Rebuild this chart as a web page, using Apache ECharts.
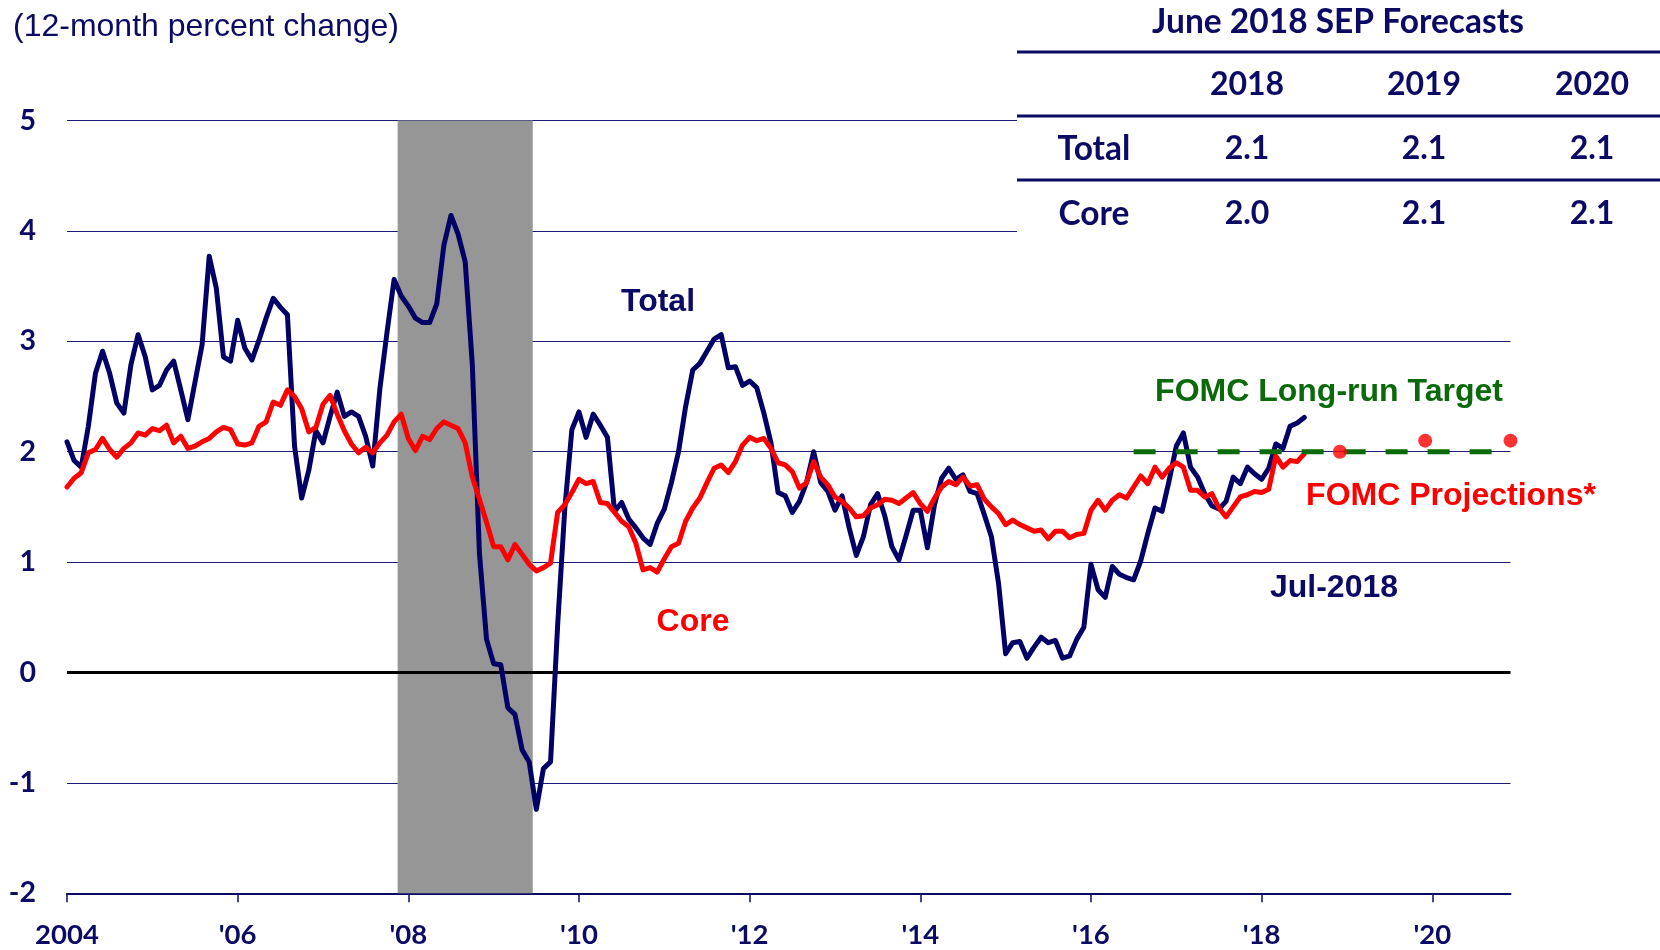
<!DOCTYPE html>
<html>
<head>
<meta charset="utf-8">
<title>PCE Inflation</title>
<script src="https://cdn.jsdelivr.net/npm/echarts@6/dist/echarts.min.js"></script>
<style>
  html, body { margin: 0; padding: 0; background: #fff; }
  #chart { width: 1660px; height: 950px; }
</style>
</head>
<body>
<div id="chart"></div>
<script>
// monthly categories, Jan 2004 .. Dec 2020
var months = [];
for (var y = 2004; y <= 2020; y++) {
  for (var m = 1; m <= 12; m++) months.push(y + '-' + (m < 10 ? '0' + m : m));
}
var yearLabels = ['2004', "'06", "'08", "'10", "'12", "'14", "'16", "'18", "'20"];

// 12-month percent change, Jan 2004 .. Jul 2018
var total = [
  2.09, 1.92, 1.86, 2.23, 2.71, 2.91, 2.71, 2.44, 2.35, 2.79, 3.06, 2.86,
  2.56, 2.60, 2.74, 2.82, 2.56, 2.29, 2.63, 2.97, 3.77, 3.48, 2.86, 2.82,
  3.19, 2.94, 2.83, 3.01, 3.21, 3.39, 3.31, 3.24, 2.05, 1.58, 1.83, 2.19,
  2.08, 2.32, 2.54, 2.32, 2.36, 2.32, 2.14, 1.87, 2.57, 3.08, 3.56, 3.41,
  3.32, 3.21, 3.17, 3.17, 3.34, 3.87, 4.14, 3.97, 3.72, 2.79, 1.08, 0.30,
  0.08, 0.07, -0.32, -0.38, -0.70, -0.81, -1.24, -0.87, -0.81, 0.43, 1.48, 2.20,
  2.36, 2.13, 2.34, 2.24, 2.13, 1.46, 1.54, 1.39, 1.31, 1.22, 1.16, 1.35,
  1.48, 1.72, 2.00, 2.41, 2.74, 2.80, 2.91, 3.02, 3.06, 2.76, 2.77, 2.60,
  2.64, 2.58, 2.35, 2.08, 1.63, 1.60, 1.45, 1.55, 1.72, 2.00, 1.72, 1.64,
  1.47, 1.60, 1.31, 1.06, 1.23, 1.52, 1.62, 1.42, 1.14, 1.02, 1.24, 1.47,
  1.47, 1.13, 1.52, 1.76, 1.85, 1.75, 1.79, 1.64, 1.62, 1.43, 1.23, 0.81,
  0.17, 0.27, 0.28, 0.13, 0.23, 0.32, 0.27, 0.29, 0.13, 0.15, 0.30, 0.41,
  0.98, 0.75, 0.68, 0.96, 0.89, 0.86, 0.84, 1.01, 1.26, 1.49, 1.46, 1.74,
  2.05, 2.17, 1.86, 1.77, 1.62, 1.51, 1.48, 1.55, 1.77, 1.71, 1.86, 1.80,
  1.75, 1.85, 2.07, 2.03, 2.23, 2.26, 2.31
];
var core = [
  1.68, 1.76, 1.81, 1.99, 2.02, 2.12, 2.02, 1.95, 2.03, 2.08, 2.17, 2.15,
  2.21, 2.19, 2.24, 2.08, 2.14, 2.03, 2.05, 2.09, 2.12, 2.18, 2.22, 2.20,
  2.07, 2.06, 2.08, 2.23, 2.27, 2.45, 2.42, 2.56, 2.50, 2.39, 2.18, 2.22,
  2.43, 2.51, 2.34, 2.19, 2.07, 1.99, 2.04, 1.99, 2.08, 2.15, 2.27, 2.34,
  2.12, 2.01, 2.14, 2.11, 2.21, 2.27, 2.24, 2.21, 2.08, 1.77, 1.57, 1.36,
  1.14, 1.14, 1.02, 1.16, 1.07, 0.98, 0.92, 0.95, 0.99, 1.45, 1.52, 1.63,
  1.75, 1.71, 1.73, 1.54, 1.53, 1.45, 1.37, 1.32, 1.17, 0.93, 0.95, 0.91,
  1.03, 1.14, 1.17, 1.37, 1.49, 1.58, 1.72, 1.85, 1.88, 1.81, 1.91, 2.06,
  2.13, 2.10, 2.12, 2.03, 1.90, 1.88, 1.82, 1.67, 1.72, 1.91, 1.77, 1.70,
  1.59, 1.55, 1.49, 1.41, 1.42, 1.49, 1.52, 1.57, 1.56, 1.53, 1.58, 1.63,
  1.53, 1.46, 1.58, 1.68, 1.73, 1.70, 1.77, 1.69, 1.70, 1.57, 1.50, 1.44,
  1.34, 1.38, 1.34, 1.31, 1.28, 1.29, 1.21, 1.28, 1.28, 1.22, 1.25, 1.26,
  1.47, 1.56, 1.47, 1.56, 1.61, 1.58, 1.68, 1.78, 1.71, 1.86, 1.77, 1.85,
  1.90, 1.86, 1.65, 1.65, 1.59, 1.62, 1.49, 1.41, 1.50, 1.59, 1.61, 1.64,
  1.63, 1.66, 1.96, 1.86, 1.92, 1.91, 1.98
];

var recession = ['2007-12', '2009-06'];
var targetValue = 2;
var targetSpan = ['2016-07', '2020-12'];

// June 2018 SEP
var sepYears = ['2018', '2019', '2020'];
var sepTotal = [2.1, 2.1, 2.1];
var sepCore = [2.0, 2.1, 2.1];
var sepMonths = ['2018-12', '2019-12', '2020-12'];

var gridFull = [-1, 1, 2, 3];
var gridShort = [4, 5];
var shortGridEnd = 133.6; // month index where the table starts

var navy = '#0b0b66';
var red = '#ff0000';
var green = '#0a6a0a';
var lato = 'Lato';
var arial = '"Liberation Sans", Arial, sans-serif';

var chart = echarts.init(document.getElementById('chart'));

function text(str, x, y, size, color, family, weight, align) {
  return {
    type: 'text', x: x, y: y, silent: true,
    style: {
      text: str, fill: color, fontSize: size, fontFamily: family,
      fontWeight: weight || 'bold', align: align || 'center', verticalAlign: 'middle'
    }
  };
}
function hline(y, x1, x2) {
  return {
    type: 'line', silent: true,
    shape: { x1: x1, y1: y, x2: x2, y2: y },
    style: { stroke: navy, lineWidth: 3 }
  };
}

var tableCols = [1094, 1247, 1424, 1592];
var graphics = [
  text('(12-month percent change)', 13, 27, 32, navy, arial, 'normal', 'left'),
  text('Total', 658, 302, 32, navy, arial),
  text('Core', 693, 622, 32, red, arial),
  text('FOMC Long-run Target', 1329, 392, 32, green, arial),
  text('FOMC Projections*', 1451, 496, 32, red, arial),
  text('Jul-2018', 1334, 588, 32, navy, arial),
  text('June 2018 SEP Forecasts', 1338, 22, 33.5, navy, lato),
  hline(52, 1017, 1660),
  hline(116, 1017, 1660),
  hline(180, 1017, 1660),
  text('Total', tableCols[0], 149, 33.5, navy, lato),
  text('Core', tableCols[0], 214, 33.5, navy, lato)
];
sepYears.forEach(function (yr, i) {
  graphics.push(text(yr, tableCols[i + 1], 85, 32, navy, lato));
  graphics.push(text(sepTotal[i].toFixed(1), tableCols[i + 1], 149, 32, navy, lato));
  graphics.push(text(sepCore[i].toFixed(1), tableCols[i + 1], 214, 32, navy, lato));
});

var option = {
  animation: false,
  backgroundColor: '#fff',
  grid: { left: 67, right: 149.5, top: 120.5, bottom: 56.7, outerBoundsMode: 'none' },
  xAxis: [
    {
      type: 'category',
      data: months,
      boundaryGap: false,
      axisLine: { onZero: false, lineStyle: { color: navy, width: 2 } },
      axisTick: {
        interval: function (i) { return i % 24 === 0; },
        length: 9,
        lineStyle: { color: navy, width: 1.5 }
      },
      axisLabel: {
        interval: function (i) { return i % 24 === 0; },
        formatter: function (v, i) { return yearLabels[i / 24]; },
        color: navy, fontFamily: lato, fontWeight: 'bold', fontSize: 27.5, margin: 28
      },
      splitLine: { show: false }
    },
    { type: 'value', min: 0, max: months.length - 1, show: false }
  ],
  yAxis: {
    type: 'value', min: -2, max: 5, interval: 1,
    axisLine: { show: false },
    axisTick: { show: false },
    splitLine: { show: false },
    axisLabel: { color: navy, fontFamily: lato, fontWeight: 'bold', fontSize: 28.5, margin: 31 }
  },
  graphic: graphics,
  series: [
    {
      name: 'gridlines', type: 'line', xAxisIndex: 1, data: [], silent: true,
      markLine: {
        z: 0.5, silent: true, symbol: 'none', label: { show: false },
        lineStyle: { color: '#1c1c78', width: 1.2, type: 'solid' },
        data: gridFull.map(function (v) { return { yAxis: v }; }).concat(
          gridShort.map(function (v) { return [{ coord: [0, v] }, { coord: [shortGridEnd, v] }]; }))
      }
    },
    {
      name: 'recession', type: 'line', xAxisIndex: 1, data: [], silent: true,
      markArea: {
        z: 1, silent: true, itemStyle: { color: '#969696' },
        data: [[
          { xAxis: months.indexOf(recession[0]) - 0.5 },
          { xAxis: months.indexOf(recession[1]) + 0.5 }
        ]]
      }
    },
    {
      name: 'zero', type: 'line', xAxisIndex: 1, data: [], silent: true,
      markLine: {
        z: 1.5, silent: true, symbol: 'none', label: { show: false },
        lineStyle: { color: '#000', width: 3, type: 'solid' },
        data: [{ yAxis: 0 }]
      }
    },
    {
      name: 'Total', type: 'line', data: total, showSymbol: false, z: 2,
      lineStyle: { color: '#000066', width: 5, join: 'round', cap: 'round' }
    },
    {
      name: 'Core', type: 'line', data: core, showSymbol: false, z: 3,
      lineStyle: { color: red, width: 5, join: 'round', cap: 'round' }
    },
    {
      name: 'Target', type: 'line', showSymbol: false, z: 4,
      data: [[targetSpan[0], targetValue], [targetSpan[1], targetValue]],
      lineStyle: { color: green, width: 5, type: [22, 20] }
    },
    {
      name: 'Projections', type: 'scatter', z: 5, symbolSize: 14,
      itemStyle: { color: red },
      data: sepMonths.map(function (mo, i) { return [mo, sepCore[i]]; })
    }
  ]
};
chart.setOption(option);
</script>
</body>
</html>
